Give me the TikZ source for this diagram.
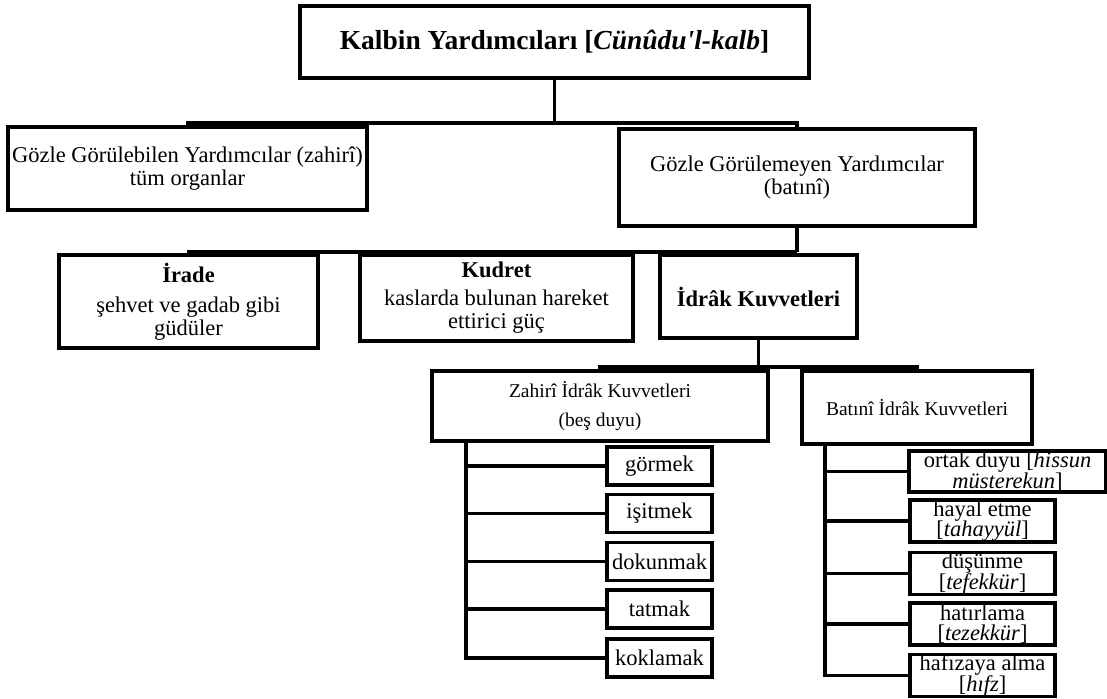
\documentclass[tikz,border=0pt]{standalone}
\usepackage{fontspec}
\setmainfont{Liberation Serif}
\begin{document}
\begin{tikzpicture}[x=1pt,y=-1pt,
  bx/.style={draw, line width=3.3pt, inner sep=0pt, align=center, fill=white},
  body/.style={font=\fontsize{22.5}{23}\selectfont},
  sub/.style={font=\fontsize{19.5}{29}\selectfont},
  small/.style={bx, font=\fontsize{22.5}{20.5}\selectfont},
  con/.style={line width=3.1pt},
  sbox/.style={small, minimum width=105pt, minimum height=38pt},
  rbox/.style={small, minimum width=145pt, minimum height=42pt}]
\useasboundingbox[fill=white] (0,0) rectangle (1107,698);

\node[bx, font=\bfseries\fontsize{27.5}{30}\selectfont, minimum width=509pt, minimum height=72pt] (top) at (554.5,42) {Kalbin Yardımcıları [\textit{Cünûdu\textquotesingle l-kalb}]};

\node[bx, body, minimum width=359pt, minimum height=83pt] (left1) at (187.5,168.5) {Gözle Görülebilen Yardımcılar (zahirî)\\tüm organlar};
\node[bx, body, minimum width=356pt, minimum height=97pt] (right1) at (797,177.5) {Gözle Görülemeyen Yardımcılar\\(batınî)};

\node[bx, body, minimum width=259pt, minimum height=93pt] (irade) at (188.5,301.5) {\textbf{İrade}\\[7pt]şehvet ve gadab gibi\\güdüler};
\node[bx, body, minimum width=273pt, minimum height=86pt] (kudret) at (496.5,298) {\textbf{Kudret}\\[5pt]kaslarda bulunan hareket\\ettirici güç};
\node[bx, body, minimum width=197pt, minimum height=83pt] (idrak) at (758.5,296.5) {\textbf{İdrâk Kuvvetleri}};

\node[bx, sub, minimum width=336pt, minimum height=70pt] (zahiri) at (600,406) {Zahirî İdrâk Kuvvetleri\\(beş duyu)};
\node[bx, sub, minimum width=230pt, minimum height=73pt] (batini) at (917,407.5) {Batınî İdrâk Kuvvetleri};

\node[sbox] (gor) at (659.5,466) {görmek};
\node[sbox] (isit) at (659.5,513.5) {işitmek};
\node[sbox] (dok) at (659.5,561.5) {dokunmak};
\node[sbox] (tat) at (659.5,609) {tatmak};
\node[sbox] (kok) at (659.5,658) {koklamak};

\node[small, minimum width=197pt, minimum height=41pt] (ortak) at (1007.5,471.5) {ortak duyu [\textit{hissun}\\\textit{müsterekun}]};
\node[rbox] (hayal) at (982.5,521) {hayal etme\\{[}\textit{tahayyül}]};
\node[rbox] (dus) at (982.5,573.5) {düşünme\\{[}\textit{tefekkür}]};
\node[rbox] (hat) at (982.5,624) {hatırlama\\{[}\textit{tezekkür}]};
\node[rbox] (haf) at (982.5,675.5) {hafızaya alma\\{[}\textit{hıfz}]};

\coordinate (b1) at (554.5,123);
\draw[con] (top.south) -- (b1);
\draw[con] (left1.north) |- (b1) -| (right1.north);

\coordinate (b2) at (797,252);
\draw[con] (right1.south) -- (b2);
\draw[con] (irade.north) |- (b2);
\draw[con] (kudret.north) -- (kudret.north |- b2);
\draw[con] (idrak.north) -- (idrak.north |- b2);

\coordinate (b3) at (758.5,367);
\draw[con] (idrak.south) -- (b3);
\draw[con] (zahiri.north) |- (b3) -| (batini.north);

\coordinate (zt) at (466,0);
\draw[con] (zt |- zahiri.south) -- (zt |- kok.west) -- (kok.west);
\foreach \n in {gor,isit,dok,tat} \draw[con] (zt |- \n.west) -- (\n.west);

\coordinate (bt) at (825,0);
\draw[con] (bt |- batini.south) -- (bt |- haf.west) -- (haf.west);
\foreach \n in {ortak,hayal,dus,hat} \draw[con] (bt |- \n.west) -- (\n.west);
\end{tikzpicture}
\end{document}
